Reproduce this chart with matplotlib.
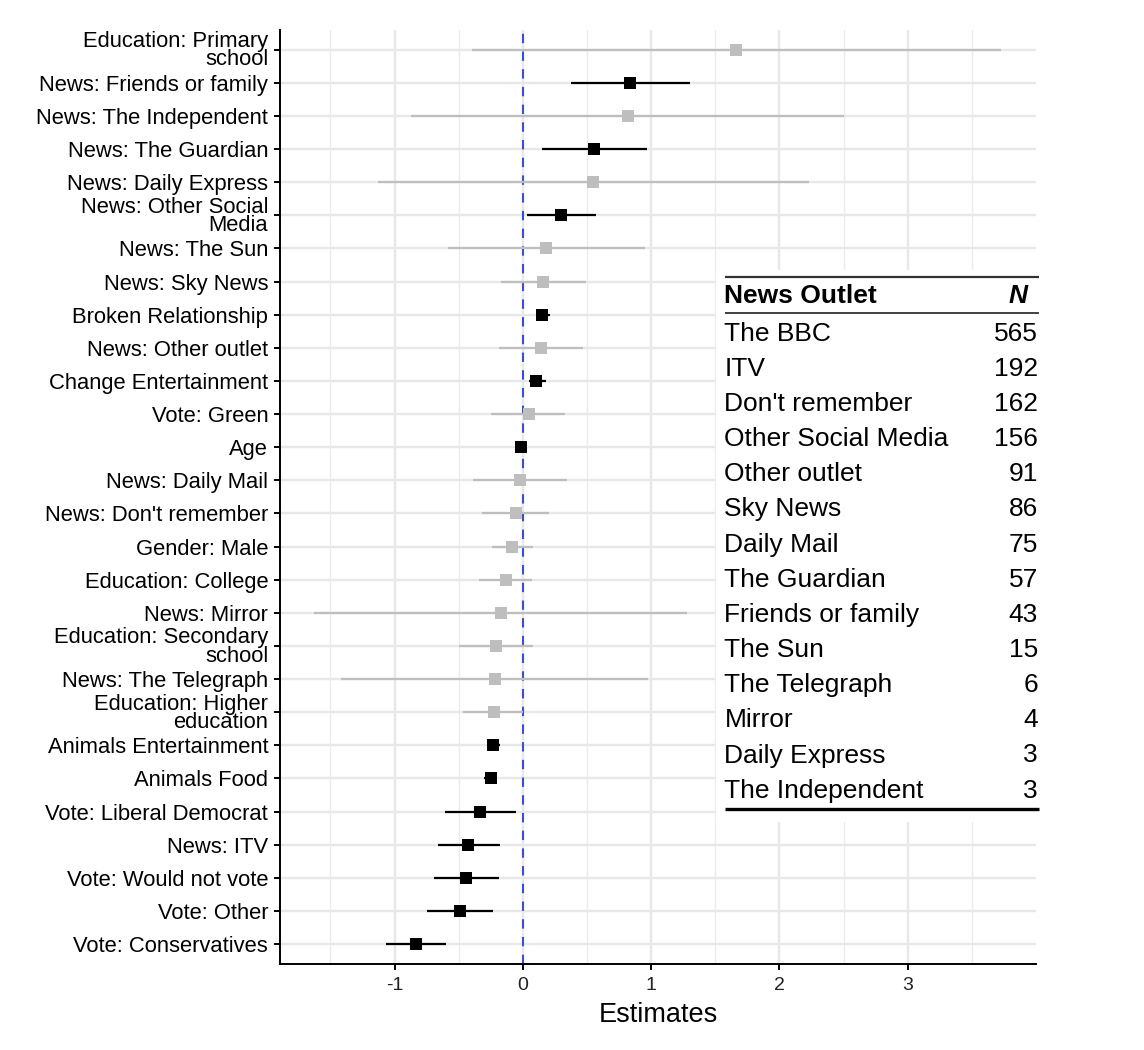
import numpy as np
import matplotlib
matplotlib.use('Agg')
import matplotlib.pyplot as plt

plt.rcParams['font.family'] = ['Liberation Sans', 'DejaVu Sans']
plt.rcParams['axes.unicode_minus'] = False

# model terms, top to bottom as drawn
terms = ["Education: Primary\nschool", "News: Friends or family", "News: The Independent",
         "News: The Guardian", "News: Daily Express", "News: Other Social\nMedia",
         "News: The Sun", "News: Sky News", "Broken Relationship", "News: Other outlet",
         "Change Entertainment", "Vote: Green", "Age", "News: Daily Mail",
         "News: Don't remember", "Gender: Male", "Education: College", "News: Mirror",
         "Education: Secondary\nschool", "News: The Telegraph", "Education: Higher\neducation",
         "Animals Entertainment", "Animals Food", "Vote: Liberal Democrat", "News: ITV",
         "Vote: Would not vote", "Vote: Other", "Vote: Conservatives"]
estimate = [1.66, 0.836, 0.818, 0.558, 0.545, 0.30, 0.18, 0.16, 0.153, 0.143,
            0.104, 0.044, -0.012, -0.023, -0.052, -0.081, -0.135, -0.174,
            -0.21, -0.216, -0.224, -0.23, -0.25, -0.332, -0.424, -0.44, -0.49, -0.833]
conf_low = [-0.40, 0.376, -0.87, 0.153, -1.13, 0.036, -0.58, -0.174, 0.10, -0.185,
            0.044, -0.25, -0.018, -0.385, -0.315, -0.237, -0.34, -1.625,
            -0.50, -1.415, -0.463, -0.28, -0.30, -0.61, -0.663, -0.69, -0.747, -1.063]
conf_high = [3.73, 1.30, 2.50, 0.966, 2.23, 0.571, 0.95, 0.495, 0.21, 0.467,
             0.18, 0.33, -0.006, 0.343, 0.207, 0.078, 0.072, 1.28,
             0.077, 0.973, 0.003, -0.177, -0.20, -0.052, -0.177, -0.183, -0.23, -0.60]

# news outlet counts for the inset table
outlets = ["The BBC", "ITV", "Don't remember", "Other Social Media", "Other outlet",
           "Sky News", "Daily Mail", "The Guardian", "Friends or family", "The Sun",
           "The Telegraph", "Mirror", "Daily Express", "The Independent"]
counts = [565, 192, 162, 156, 91, 86, 75, 57, 43, 15, 6, 4, 3, 3]

W, H = 1144, 1050
fig = plt.figure(figsize=(W / 100, H / 100), dpi=100)
ax = fig.add_axes([280 / W, 1 - 963.9 / H, 755.8 / W, 934.1 / H])

n = len(terms)
ypos = np.arange(n, 0, -1)
est = np.array(estimate)
lo = np.array(conf_low)
hi = np.array(conf_high)
sig = (lo > 0) | (hi < 0)
cols = np.where(sig, 'black', '#bebebe')

ax.set_axisbelow(True)
ax.set_xticks([-1, 0, 1, 2, 3])
ax.set_xticks([-1.5, -0.5, 0.5, 1.5, 2.5, 3.5], minor=True)
ax.set_yticks(ypos)
ax.set_yticklabels(terms, linespacing=0.82)
ax.grid(which='major', color='#e8e8e8', lw=1.7)
ax.grid(which='minor', axis='x', color='#ebebeb', lw=1.0)

ax.axvline(0, color='#3b4fd0', lw=1.5, dashes=(4.5, 4), zorder=2)
ax.hlines(ypos, lo, hi, colors=cols, lw=1.6, zorder=3)
for y, e, c in zip(ypos, est, cols):
    ax.plot(e, y, marker='s', ms=8.2, mew=0, color=c, zorder=4)

span = conf_high[0] - min(conf_low)
ax.set_xlim(min(conf_low) - 0.05 * span, max(conf_high) + 0.05 * span)
ax.set_ylim(0.4, n + 0.6)

for s in ['top', 'right']:
    ax.spines[s].set_visible(False)
for s in ['left', 'bottom']:
    ax.spines[s].set_linewidth(1.4)
ax.tick_params(axis='y', length=4.5, width=1.4, pad=4, labelsize=15.8, colors='black')
ax.tick_params(axis='x', which='major', length=4.5, width=1.4, pad=5, labelsize=14,
               labelcolor='#222222')
ax.tick_params(axis='x', which='minor', length=0)
ax.set_xlabel('Estimates', fontsize=19.5, labelpad=6)

# inset table on a white box
tab = fig.add_axes([716 / W, 1 - 822 / H, 329 / W, 552 / H])
tab.set_xlim(716, 1045)
tab.set_ylim(822, 270)
tab.set_facecolor('white')
tab.axis('off')
tab.add_patch(plt.Rectangle((716, 270), 329, 552, color='white', zorder=0))
x0, x1 = 724.5, 1039
tab.hlines(276.7, x0, x1, color='#333333', lw=1.6)
tab.hlines(312.5, x0, x1, color='#333333', lw=1.3)
tab.hlines(809, x0, x1, color='black', lw=2.4)
tab.text(x0, 302.7, 'News Outlet', fontsize=19, fontweight='bold', va='baseline')
tab.text(1028, 302.7, 'N', fontsize=19, fontweight='bold', style='italic',
         va='baseline', ha='right')
for i, (name, cnt) in enumerate(zip(outlets, counts)):
    yb = 340.7 + 35.15 * i
    tab.text(x0, yb, name, fontsize=19, va='baseline')
    tab.text(1038, yb, str(cnt), fontsize=19, va='baseline', ha='right')

fig.savefig('out.png', dpi=100)
